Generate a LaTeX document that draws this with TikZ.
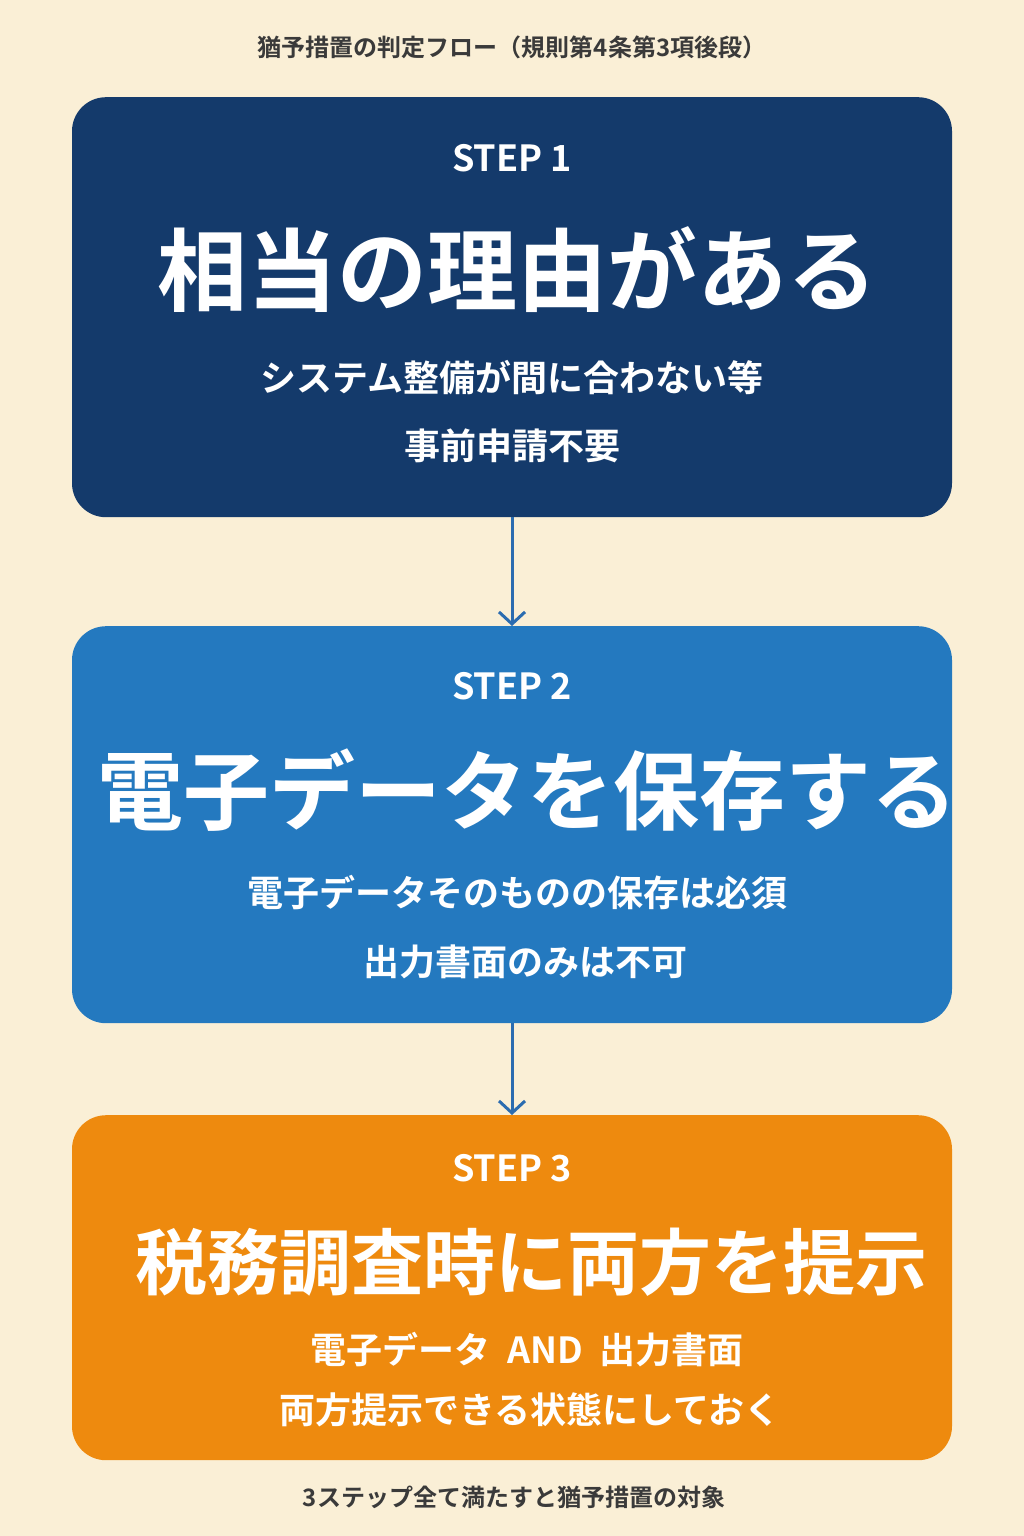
\documentclass[tikz,border=0pt]{standalone}
\usepackage{fontspec}
\setmainfont{Noto Sans CJK JP}[BoldFont={Noto Sans CJK JP Bold}]
\usetikzlibrary{arrows.meta}
\definecolor{bg}{HTML}{FAEFD6}
\definecolor{bA}{HTML}{143A6B}
\definecolor{bB}{HTML}{2479BF}
\definecolor{bC}{HTML}{EE8A0E}
\definecolor{arr}{HTML}{2B6CB0}
\definecolor{txt}{HTML}{3A3A3A}
\tikzset{
 box/.style={rounded corners=34pt,minimum width=880pt,anchor=north},
 st/.style={text=white,font=\bfseries\fontsize{36}{40}\selectfont},
 sub/.style={text=white,font=\bfseries\fontsize{36}{40}\selectfont},
 con/.style={draw=arr,line width=3pt,-{Straight Barb[length=12pt,width=26pt,line width=3pt]}},
 note/.style={text=txt,font=\bfseries\fontsize{24}{28}\selectfont}
}
\begin{document}
\begin{tikzpicture}[x=1pt,y=-1pt]
\fill[bg] (0,0) rectangle (1024,1536);
\useasboundingbox (0,0) rectangle (1024,1536);
\node[note] (title) at (512,47) {猶予措置の判定フロー（規則第4条第3項後段）};
\node[box,fill=bA,minimum height=420pt] (b1) at (512,97) {};
\node[box,fill=bB,minimum height=397pt] (b2) at (512,626) {};
\node[box,fill=bC,minimum height=345pt] (b3) at (512,1115) {};
\node[st] (s1) at (512,158) {STEP 1};
\node[text=white,font=\bfseries\fontsize{90}{96}\selectfont] (m1) at (517,270) {相当の理由がある};
\node[sub] (a1) at (512,378) {システム整備が間に合わない等};
\node[sub] (c1) at (512,446) {事前申請不要};
\node[st] (s2) at (512,686) {STEP 2};
\node[text=white,font=\bfseries\fontsize{86}{92}\selectfont] (m2) at (527,790) {電子データを保存する};
\node[sub] (a2) at (517,893) {電子データそのものの保存は必須};
\node[sub] (c2) at (525,962) {出力書面のみは不可};
\node[st] (s3) at (512,1168) {STEP 3};
\node[text=white,font=\bfseries\fontsize{72}{80}\selectfont] (m3) at (531,1262) {税務調査時に両方を提示};
\node[sub] (a3) at (527,1350) {電子データ\ \ AND\ \ 出力書面};
\node[sub] (c3) at (530,1410) {両方提示できる状態にしておく};
\node[note] (foot) at (514,1497) {3ステップ全て満たすと猶予措置の対象};
\draw[con] (b1.south) -- (b2.north);
\draw[con] (b2.south) -- (b3.north);
\end{tikzpicture}
\end{document}
